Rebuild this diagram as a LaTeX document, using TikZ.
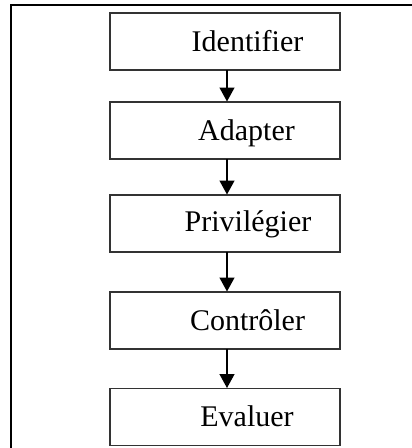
\documentclass[tikz,border=0pt]{standalone}
\usepackage{fontspec}
\setmainfont{Liberation Serif}
\usetikzlibrary{arrows.meta}
\begin{document}
\begin{tikzpicture}[x=1pt,y=-1pt,
  stepbox/.style={draw=black!80,line width=1.7pt,minimum width=230pt,minimum height=57pt,inner sep=0pt,outer sep=0pt},
  steplabel/.style={anchor=base,font=\fontsize{30pt}{34pt}\selectfont,inner sep=0pt},
  flow/.style={line width=1.3pt,-{Triangle[width=15pt,length=14pt]},shorten >=0.5pt}]
\useasboundingbox (0,0) rectangle (412,448);
% open frame: top and left edges only
\draw[line width=1.3pt] (11,448) -- (11,5) -- (412,5);
% process steps
\node[stepbox] (s1) at (225,41.5) {};
\node[stepbox] (s2) at (225,130.5) {};
\node[stepbox] (s3) at (225,223.5) {};
\node[stepbox] (s4) at (225,320.5) {};
\node[stepbox] (s5) at (225,417) {};
\node[steplabel] (t1) at ([xshift=22.5pt,yshift=-10pt]s1.center) {Identifier};
\node[steplabel] (t2) at ([xshift=21.5pt,yshift=-9.5pt]s2.center) {Adapter};
\node[steplabel] (t3) at ([xshift=23pt,yshift=-8pt]s3.center) {Privilégier};
\node[steplabel] (t4) at ([xshift=22.5pt,yshift=-9.5pt]s4.center) {Contrôler};
\node[steplabel] (t5) at ([xshift=22pt,yshift=-9pt]s5.center) {Evaluer};
% connectors
\foreach \a/\b in {s1/s2,s2/s3,s3/s4,s4/s5}
  \draw[flow] ([xshift=2pt]\a.south) -- ([xshift=2pt]\b.north);
\end{tikzpicture}
\end{document}
